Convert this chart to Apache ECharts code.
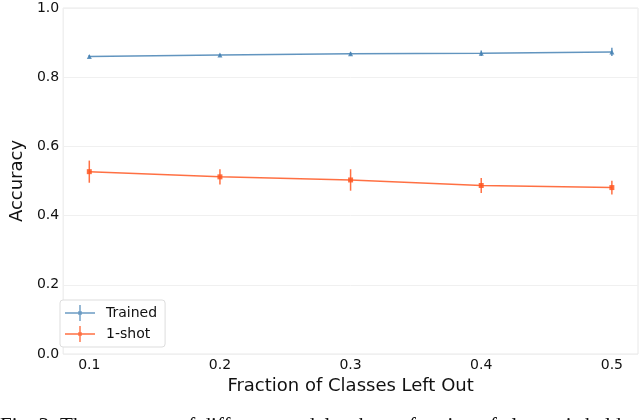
<!DOCTYPE html>
<html>
<head>
<meta charset="utf-8">
<script src="https://cdn.jsdelivr.net/npm/echarts@6/dist/echarts.min.js"></script>
<style>html,body{margin:0;padding:0;background:#fff;}#chart{width:640px;height:420px;}</style>
</head>
<body>
<div id="chart"></div>
<script>
const fractions = [0.1, 0.2, 0.3, 0.4, 0.5];
const trained = [0.860, 0.864, 0.868, 0.869, 0.873];
const trainedErr = [0.004, 0.004, 0.005, 0.008, 0.012];
const oneShot = [0.527, 0.512, 0.503, 0.487, 0.481];
const oneShotErr = [0.032, 0.022, 0.031, 0.022, 0.020];
const xTicks = [0.1, 0.2, 0.3, 0.4, 0.5];
const seriesNames = ['Trained', '1-shot'];
const caption = 'Fig. 3: The accuracy of different models when a fraction of classes is held out during training.';

const BLUE = '#4682b4';
const RED = '#ff5722';
const FONT = 'DejaVu Sans';

function pairs(ys) { return fractions.map((x, i) => [x, ys[i]]); }
function errData(ys, es) { return fractions.map((x, i) => [x, ys[i] - es[i], ys[i] + es[i]]); }
function errRender(color) {
  return function (params, api) {
    const p1 = api.coord([api.value(0), api.value(1)]);
    const p2 = api.coord([api.value(0), api.value(2)]);
    return { type: 'line', shape: { x1: p1[0], y1: p1[1], x2: p2[0], y2: p2[1] },
      style: { stroke: color, lineWidth: 1.5, opacity: 0.85 } };
  };
}
const iconPath = 'path://M0,7.3 L30,7.3 L30,8.7 L0,8.7 Z M14.3,0 L15.7,0 L15.7,16 L14.3,16 Z M13.2,6.2 L16.8,6.2 L16.8,9.8 L13.2,9.8 Z';

const chart = echarts.init(document.getElementById('chart'), null, { renderer: 'canvas' });
chart.setOption({
  animation: false,
  backgroundColor: '#fff',
  textStyle: { fontFamily: FONT },
  grid: { left: 52, right: 2, top: 8, bottom: 66, show: true, borderColor: '#e8e8e8', borderWidth: 1, backgroundColor: 'transparent' },
  xAxis: {
    type: 'value', min: 0.08, max: 0.52,
    name: 'Fraction of Classes Left Out', nameLocation: 'middle', nameGap: 19,
    nameTextStyle: { fontSize: 18, color: '#111', fontFamily: FONT },
    axisLine: { show: false }, axisTick: { show: false },
    splitLine: { show: false },
    axisLabel: { customValues: xTicks, fontSize: 14, color: '#111', margin: 4, fontFamily: FONT,
      formatter: v => v.toFixed(1) }
  },
  yAxis: {
    type: 'value', min: 0, max: 1, interval: 0.2,
    name: 'Accuracy', nameLocation: 'middle', nameGap: 30,
    nameTextStyle: { fontSize: 18, color: '#111', fontFamily: FONT },
    axisLine: { show: false }, axisTick: { show: false },
    splitLine: { lineStyle: { color: '#f0f0f0', width: 1 } },
    axisLabel: { fontSize: 14, color: '#111', margin: 4, fontFamily: FONT, formatter: v => v.toFixed(1) }
  },
  legend: {
    orient: 'vertical', left: 60, top: 300,
    data: [
      { name: seriesNames[0], icon: iconPath, itemStyle: { color: BLUE, opacity: 0.8 } },
      { name: seriesNames[1], icon: iconPath, itemStyle: { color: RED } }
    ],
    itemWidth: 30, itemHeight: 16, itemGap: 5,
    padding: [5, 8, 5, 5],
    backgroundColor: '#fff', borderColor: '#dddddd', borderWidth: 1, borderRadius: 3,
    textStyle: { fontSize: 14, color: '#111', fontFamily: FONT, padding: [0, 0, 0, 6] }
  },
  graphic: [{
    type: 'text', left: 0, top: 416,
    style: { text: caption, font: '21px "Liberation Serif"', fill: '#111' }
  }],
  series: [
    { name: seriesNames[0], type: 'line', data: pairs(trained), color: BLUE,
      symbol: 'triangle', symbolSize: 5, showSymbol: true,
      lineStyle: { width: 1.5, opacity: 0.85 }, itemStyle: { opacity: 0.85 } },
    { name: seriesNames[1], type: 'line', data: pairs(oneShot), color: RED,
      symbol: 'rect', symbolSize: 5, showSymbol: true,
      lineStyle: { width: 1.5, opacity: 0.85 }, itemStyle: { opacity: 0.85 } },
    { name: 'trainedErr', type: 'custom', data: errData(trained, trainedErr), renderItem: errRender(BLUE),
      encode: { x: 0, y: [1, 2] } },
    { name: 'oneShotErr', type: 'custom', data: errData(oneShot, oneShotErr), renderItem: errRender(RED),
      encode: { x: 0, y: [1, 2] } }
  ]
});
</script>
</body>
</html>
